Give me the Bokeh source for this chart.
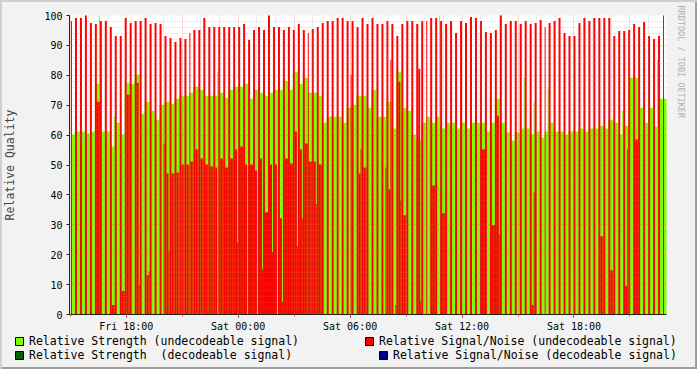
import numpy as np
import pandas as pd
from bokeh.plotting import figure
from bokeh.layouts import column
from bokeh.models import (ColumnDataSource, Range1d, FixedTicker, Legend, LegendItem, Title)
from bokeh.embed import file_html
from bokeh.resources import INLINE

# ---------------- data ----------------
VIEW_START = "2010-11-05 14:57:32"
VIEW_END = "2010-11-06 22:57:32"
FIRST_SAMPLE = "2010-11-05 15:02:20"
STEP_SECONDS = 952

# Relative Signal/Noise (undecodeable), peak sample of each period
SNR_PEAK = [98, 99, 99, 100, 97.5, 97, 98, 98, 96, 93,
            93, 99, 97.5, 98, 98, 99, 97, 97.5, 97, 93,
            92.5, 91, 92.5, 92, 94, 95, 95, 99, 96, 96,
            96, 96, 96, 96, 96, 97, 91.7, 95, 96, 95,
            100, 96, 96, 95, 96, 95, 97, 95, 94, 95.5,
            96, 97.5, 98, 98, 99, 99, 98, 98, 96, 99,
            97, 99, 97, 97, 98, 97, 93, 97, 98, 98,
            97, 98, 98, 99, 99, 98, 97, 98, 94, 98,
            97.5, 99.5, 99, 98, 94.5, 94, 95, 100, 97, 98,
            98, 97, 98, 97, 97.5, 98.5, 96, 97.5, 98, 99,
            94, 93, 93, 97.5, 99, 98, 99, 99, 99, 99,
            93, 94.7, 94.7, 95, 97, 96, 97.8, 93, 92, 93, 100]

# Relative Strength (undecodeable)
STRENGTH = [60, 61, 61, 60.5, 61, 77, 61, 61, 56, 64,
            60, 77.5, 77, 80, 67, 71, 68, 65, 70, 71,
            70.5, 72, 73, 73, 74, 76, 75, 73, 73, 73,
            74, 72.5, 75, 76, 76, 77, 72, 75, 74, 73,
            74, 75, 75, 78, 75, 81, 77, 79, 74, 74,
            73, 64, 66, 66, 66, 64, 69, 70, 73, 73,
            69, 75, 66, 66, 71, 62, 81, 69, 68, 60,
            58, 64, 66, 64, 66, 62, 64, 64, 62, 64,
            62, 64, 64, 64, 61, 64, 72, 64, 60.6, 58,
            60.6, 62, 62, 60, 61, 59, 61, 64, 61, 61,
            60, 61, 61, 62, 61, 62, 62, 63, 62, 65,
            64, 60, 63, 79, 79, 69, 64, 69, 62.6, 72, 72]

# Relative Signal/Noise (undecodeable), low sample of each period
SNR_LOW = [0, 0, 0, 0, 0, 71, 0, 0, 3, 0,
           7.8, 73.5, 0, 77.5, 0, 13, 0, 0, 0, 47,
           47, 47.5, 50, 50, 51, 55, 52, 50, 49.5, 49,
           52, 49, 52, 55, 56, 50, 50, 48, 52, 34,
           50, 50, 32, 52, 50.5, 61, 55, 57, 51, 51,
           50, 0, 0, 0, 0, 0, 0, 0, 47, 49,
           0, 0, 0, 0, 41.7, 0, 77.6, 33, 0, 0,
           82, 0, 0, 43, 0, 33.7, 0, 0, 0, 0,
           0, 0, 0, 55, 0, 29.7, 66.3, 0, 0, 0,
           0, 0, 0, 3, 0, 0, 0, 0, 0, 0,
           0, 0, 0, 0, 0, 0, 0, 26.1, 0, 14.7,
           0, 0, 9.4, 0, 58.3, 0, 0, 0, 0, 0, 0]

# short single samples at the end of a period: (period, value)
SNR_THIN = [(13, 9.7), (15, 14.4), (18, 57), (19, 21), (29, 0), (33, 24), (35, 0),
            (37, 0), (38, 15), (40, 20.6), (41, 0), (42, 4), (45, 22.8), (46, 32),
            (49, 36.7), (56, 80), (58, 55), (63, 49), (64, 85), (65, 3), (66, 38),
            (70, 4.4), (86, 26.7), (93, 40.6), (112, 55)]
STRENGTH_THIN = [(5, 100), (8, 66), (29, 81), (74, 100), (91, 79), (93, 71),
                 (96, 75.5), (111, 68), (118, 85)]

TICK_TIMES = ["2010-11-05 18:00", "2010-11-06 00:00", "2010-11-06 06:00",
              "2010-11-06 12:00", "2010-11-06 18:00"]
TICK_LABELS = ["Fri 18:00", "Sat 00:00", "Sat 06:00", "Sat 12:00", "Sat 18:00"]

LEGEND_LABELS = ["Relative Strength (undecodeable signal)",
                 "Relative Signal/Noise (undecodeable signal)",
                 "Relative Strength  (decodeable signal)",
                 "Relative Signal/Noise (decodeable signal)"]

# ---------------- build ----------------
def ms(s):
    return pd.Timestamp(s).value // 10**6

v0, v1 = ms(VIEW_START), ms(VIEW_END)
PLOT_W, PLOT_H = 600, 300
Y_MAX = 100
px = (v1 - v0) / PLOT_W          # ms per screen pixel
py = Y_MAX / PLOT_H              # value units per screen pixel


def snap(t):
    # put a bar edge exactly on a screen pixel boundary (crisp, like rrdtool's raster)
    return v0 + (np.floor((t - v0) / px + 0.5) - 0.5) * px


def snap_y(v):
    return Y_MAX - (np.floor((Y_MAX - v) / py + 0.5) - 0.5) * py


t0 = ms(FIRST_SAMPLE)
P = STEP_SECONDS * 1000
n = len(SNR_PEAK)
starts = [t0 + P * k for k in range(n)]
thin_snr = dict(SNR_THIN)

g = dict(left=[], right=[], top=[], bottom=[])
for k in range(n):
    s = starts[k]
    g["left"].append(snap(s)); g["right"].append(snap(s + P))
    g["top"].append(snap_y(STRENGTH[k])); g["bottom"].append(0)
for k, v in STRENGTH_THIN:
    s = starts[k]
    g["left"].append(snap(s + 0.8 * P)); g["right"].append(snap(s + P))
    g["top"].append(snap_y(v)); g["bottom"].append(0)

r = dict(left=[], right=[], top=[], bottom=[])


def add_red(l, rr, t):
    if t > 0 and rr > l:
        r["left"].append(l); r["right"].append(rr)
        r["top"].append(snap_y(t)); r["bottom"].append(0)


for k in range(n):
    s = starts[k]
    add_red(snap(s), snap(s + 0.4 * P), SNR_PEAK[k])
    add_red(snap(s + 0.4 * P), snap(s + 0.8 * P), SNR_LOW[k])
    add_red(snap(s + 0.8 * P), snap(s + P), thin_snr.get(k, SNR_LOW[k]))

GREEN, DGREEN, RED, BLUE = "#80FF00", "#006400", "#FF0000", "#00008C"
FONT = "DejaVu Sans Mono"
BACK = "#F2F2F2"

p = figure(width=697, height=334, x_axis_type="datetime",
           x_range=Range1d(v0, v1), y_range=Range1d(0, Y_MAX),
           toolbar_location=None, output_backend="svg",
           min_border_left=67, min_border_right=30, min_border_top=15, min_border_bottom=19,
           background_fill_color="white", border_fill_color=BACK, border_fill_alpha=0,
           outline_line_color=None)
p.frame_align = False

p.quad(source=ColumnDataSource(g), left="left", right="right", top="top", bottom="bottom",
       fill_color=GREEN, line_color=None)
p.quad(source=ColumnDataSource(r), left="left", right="right", top="top", bottom="bottom",
       fill_color=RED, line_color=None)

# grids
hour = 3600 * 1000
first_hour = (v0 // hour + 1) * hour
hours = list(range(first_hour, v1 + 1, hour))
major_x = [h for h in hours if pd.Timestamp(h, unit="ms").hour % 3 == 0]
minor_x = [h for h in hours if h not in major_x]
p.xgrid.ticker = FixedTicker(ticks=major_x, minor_ticks=minor_x)
p.ygrid.ticker = FixedTicker(ticks=list(range(10, 101, 10)),
                             minor_ticks=[v for v in range(2, 100, 2) if v % 10])
for gr in (p.xgrid, p.ygrid):
    gr.grid_line_color = "#DE4F4F"; gr.grid_line_alpha = 0.45; gr.grid_line_dash = "1 1"
    gr.minor_grid_line_color = "#8F8F8F"; gr.minor_grid_line_alpha = 0.3
    gr.minor_grid_line_dash = "1 1"
    gr.level = "annotation"

# axes
tick_ms = [ms(t) for t in TICK_TIMES]
p.xaxis.ticker = FixedTicker(ticks=tick_ms, minor_ticks=major_x)
p.xaxis.major_label_overrides = {t: lab for t, lab in zip(tick_ms, TICK_LABELS)}
p.yaxis.ticker = FixedTicker(ticks=list(range(0, 101, 10)), minor_ticks=[])
for ax in (p.xaxis, p.yaxis):
    ax.axis_line_color = "#1F1F1F"
    ax.major_tick_line_color = "#1F1F1F"
    ax.major_tick_out = 3; ax.major_tick_in = 0
    ax.minor_tick_out = 2; ax.minor_tick_in = 0
    ax.minor_tick_line_color = "#DE4F4F"
    ax.major_label_text_font = FONT
    ax.major_label_text_font_size = "10px"
    ax.major_label_text_color = "black"
    ax.major_label_standoff = 4
p.xaxis.major_label_standoff = 3
p.yaxis.axis_label = "Relative Quality"
p.yaxis.axis_label_text_font = FONT
p.yaxis.axis_label_text_font_size = "11.5px"
p.yaxis.axis_label_text_font_style = "normal"
p.yaxis.axis_label_standoff = 24

# watermark
p.add_layout(Title(text="RRDTOOL / TOBI OETIKER", align="left", text_font=FONT,
                   text_font_size="8.5px", text_font_style="normal", text_color="#B0B0B0",
                   standoff=19, offset=-10), "right")

# legend strip below the graph (rrdtool style, 2 x 2)
pl = figure(width=697, height=35, x_range=Range1d(0, 697), y_range=Range1d(0, 35),
            toolbar_location=None, output_backend="svg", x_axis_location=None,
            y_axis_location=None, min_border=0, min_border_left=0, min_border_right=0,
            min_border_top=0, min_border_bottom=0, outline_line_color=None,
            background_fill_alpha=0, border_fill_alpha=0)
pl.frame_align = False
pl.grid.visible = False
colors = [GREEN, RED, DGREEN, BLUE]
places = [(14, 21), (364, 21), (14, 7), (378, 7)]
for lab, col, loc in zip(LEGEND_LABELS, colors, places):
    # off-screen swatch renderer: only used to draw the legend box
    dummy = pl.quad(left=[-30], right=[-20], top=[-20], bottom=[-30], fill_color=col,
                    line_color="black", line_width=1)
    lg = Legend(items=[LegendItem(label=lab, renderers=[dummy])], location=loc,
                padding=0, margin=0, spacing=0, border_line_alpha=0,
                background_fill_alpha=0, label_standoff=5, glyph_width=10,
                glyph_height=10, label_height=10, label_text_font=FONT,
                label_text_font_size="11.5px", label_text_color="black")
    pl.add_layout(lg, "center")

page = column(p, pl, spacing=0,
              styles={"background-color": BACK,
                      "box-shadow": "inset 2px 2px 0 #CFCFCF, inset -2px -2px 0 #9E9E9E"})

open("out.html", "w").write(file_html(page, INLINE))
